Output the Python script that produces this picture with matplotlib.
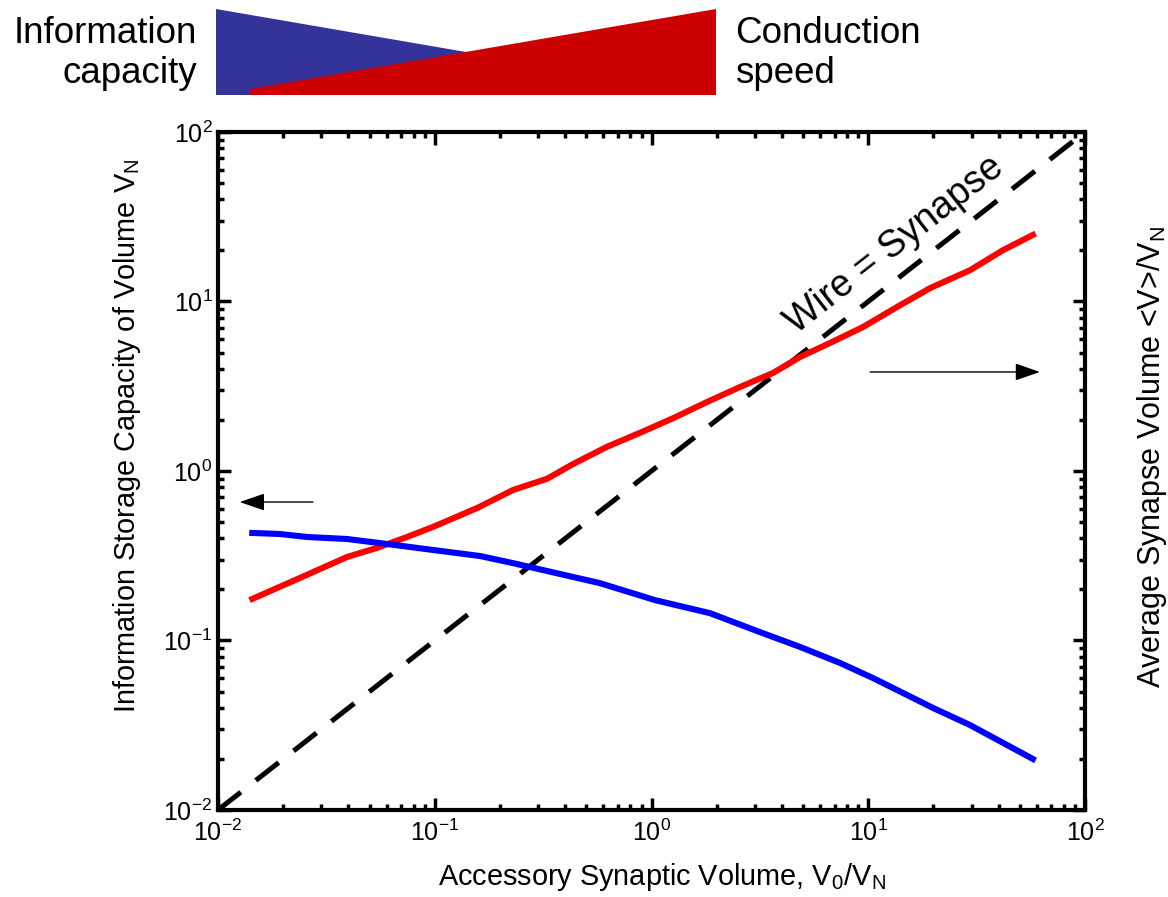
import matplotlib
matplotlib.use("Agg")
import matplotlib.pyplot as plt
from matplotlib.patches import Polygon
from matplotlib.ticker import LogLocator, NullFormatter
import numpy as np

plt.rcParams['font.family'] = ['Liberation Sans', 'DejaVu Sans']
plt.rcParams['mathtext.fontset'] = 'custom'
plt.rcParams['mathtext.rm'] = 'Liberation Sans'
plt.rcParams['mathtext.it'] = 'Liberation Sans:italic'
plt.rcParams['mathtext.default'] = 'regular'

# ---- data ----
red_x = [0.0144, 0.0239, 0.0394, 0.0542, 0.0745, 0.0982, 0.157, 0.230, 0.330, 0.435,
         0.624, 0.885, 1.26, 1.80, 2.56, 3.64, 4.85, 6.66, 9.46, 13.6, 19.3, 29.5, 41.9, 57.5]
red_y = [0.176, 0.234, 0.311, 0.352, 0.408, 0.468, 0.605, 0.773, 0.900, 1.10,
         1.39, 1.68, 2.05, 2.55, 3.13, 3.79, 4.71, 5.69, 7.07, 9.29, 12.0, 15.3, 20.1, 24.7]

blue_x = [0.0144, 0.0193, 0.0258, 0.0394, 0.0603, 0.0982, 0.162, 0.230, 0.330, 0.578,
          1.04, 1.86, 3.17, 4.85, 7.41, 10.5, 16.1, 19.9, 29.5, 57.5]
blue_y = [0.431, 0.425, 0.408, 0.397, 0.371, 0.342, 0.315, 0.286, 0.257, 0.218,
          0.173, 0.145, 0.112, 0.0916, 0.0737, 0.0601, 0.0458, 0.040, 0.0317, 0.0200]

diag_x = [0.01, 100]
diag_y = [0.01, 100]

tick_vals = [1e-2, 1e-1, 1e0, 1e1, 1e2]
tick_labels = ['$10^{-2}$', '$10^{-1}$', '$10^{0}$', '$10^{1}$', '$10^{2}$']

banner_blue = [(0, 1), (0, 0), (1, 0)]
banner_red = [(0.068, 0), (0.068, 0.07), (1, 1), (1, 0)]

W, H = 1168, 897
fig = plt.figure(figsize=(W / 100, H / 100), dpi=100)

ax = fig.add_axes([218 / W, 1 - 810 / H, (1085 - 218) / W, (810 - 132) / H])
ax.set_xscale('log')
ax.set_yscale('log')
ax.set_xlim(1e-2, 1e2)
ax.set_ylim(1e-2, 1e2)

ax.plot(diag_x, diag_y, color='black', lw=3.6, dashes=(5.8, 3.8), zorder=2)
ax.plot(red_x, red_y, color='#ff0000', lw=4.4, zorder=3, solid_joinstyle='round')
ax.plot(blue_x, blue_y, color='#0000ff', lw=4.4, zorder=3, solid_joinstyle='round')

for s in ax.spines.values():
    s.set_linewidth(3)
ax.set_xticks(tick_vals)
ax.set_xticklabels(tick_labels)
ax.set_yticks(tick_vals)
ax.set_yticklabels(tick_labels)
ax.xaxis.set_minor_locator(LogLocator(base=10, subs=np.arange(2, 10), numticks=20))
ax.yaxis.set_minor_locator(LogLocator(base=10, subs=np.arange(2, 10), numticks=20))
ax.xaxis.set_minor_formatter(NullFormatter())
ax.yaxis.set_minor_formatter(NullFormatter())
ax.set_xlim(1e-2, 1e2)
ax.set_ylim(1e-2, 1e2)
ax.tick_params(which='both', direction='in', top=True, right=True, labelsize=18)
ax.tick_params(which='major', length=9, width=2.5)
ax.tick_params(which='minor', length=4, width=2.5)
ax.tick_params(axis='x', which='major', pad=7)
ax.tick_params(axis='y', which='major', pad=4)

ax.text(13.3, 21.5, 'Wire = Synapse', rotation=38, rotation_mode='anchor',
        ha='center', va='center', fontsize=27, transform=ax.transData)

arrow_style = '-|>,head_length=1.1,head_width=0.38'
ax.annotate('', xy=(0.0126, 0.656), xytext=(0.0274, 0.656),
            arrowprops=dict(arrowstyle=arrow_style, color='black', lw=1.0,
                            mutation_scale=14, shrinkA=0, shrinkB=0))
ax.annotate('', xy=(62, 3.84), xytext=(10.2, 3.84),
            arrowprops=dict(arrowstyle=arrow_style, color='black', lw=1.0,
                            mutation_scale=14, shrinkA=0, shrinkB=0))

fig.text(662 / W, 1 - 877 / H, 'Accessory Synaptic Volume, V$_0$/V$_N$',
         ha='center', va='center', fontsize=20.8)
fig.text(127 / W, 1 - 436 / H, 'Information Storage Capacity of Volume V$_N$',
         ha='center', va='center', rotation=90, fontsize=20.8)
fig.text(1152 / W, 1 - 457 / H, 'Average Synapse Volume <V>/V$_N$',
         ha='center', va='center', rotation=90, fontsize=22)

# banner
bax = fig.add_axes([216 / W, 1 - 95 / H, 500 / W, 86 / H])
bax.set_xlim(0, 1)
bax.set_ylim(0, 1)
bax.axis('off')
bax.add_patch(Polygon(banner_blue, closed=True, facecolor='#333399', edgecolor='none'))
bax.add_patch(Polygon(banner_red, closed=True, facecolor='#cc0000', edgecolor='none'))
bax.text(-0.038, 0.48, 'Information\ncapacity', ha='right', va='center',
         fontsize=26.5, linespacing=1.2, transform=bax.transAxes)
bax.text(1.038, 0.48, 'Conduction\nspeed', ha='left', va='center',
         fontsize=26.5, linespacing=1.2, transform=bax.transAxes)

fig.savefig('out.png', dpi=100)
